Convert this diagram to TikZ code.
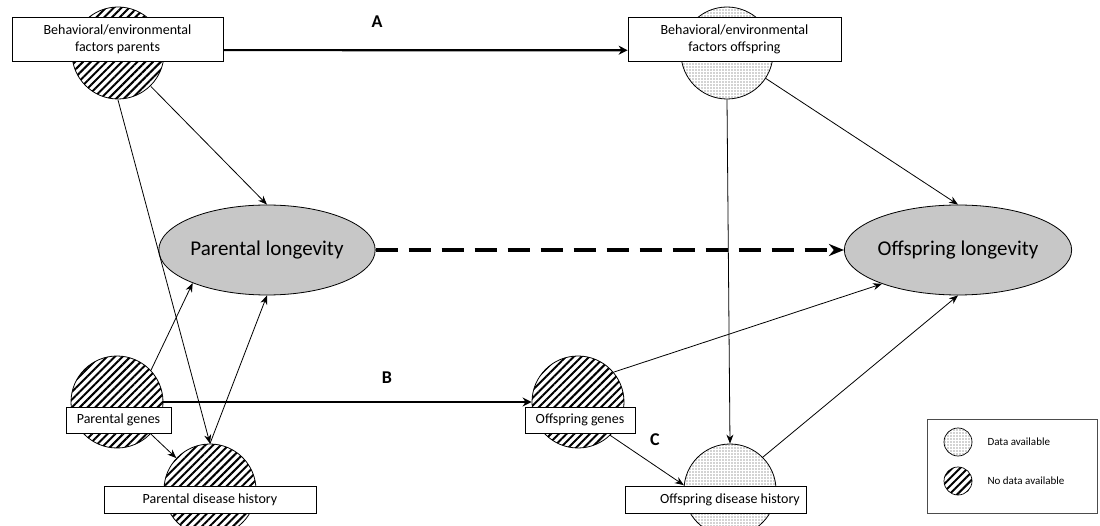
\documentclass[tikz,border=0pt]{standalone}
\usepackage{fontspec}
\setmainfont{Carlito}
\usepackage{tikz}
\usetikzlibrary{arrows.meta,shapes.geometric,patterns.meta}
\tikzset{
  hatched/.style={circle,draw,line width=0.8pt,minimum size=92pt,inner sep=0pt,
    pattern={Lines[angle=45,distance=5.5pt,line width=2pt]}},
  speckled/.style={circle,draw,line width=0.8pt,minimum size=92pt,inner sep=0pt,
    pattern={Dots[distance=3pt,radius=0.6pt]},pattern color=black!75},
  box/.style={draw,fill=white,line width=0.7pt,align=center,inner sep=0pt,
    font=\fontsize{14}{17}\selectfont},
  outcome/.style={ellipse,draw,fill=black!22,line width=0.8pt,inner sep=0pt,
    minimum width=204pt,minimum height=90pt,font=\fontsize{21}{25}\selectfont},
  arr/.style={line width=0.8pt,-{Stealth[length=9pt,width=7pt]}},
  link/.style={line width=2.2pt,-{Stealth[length=9pt,width=9pt]}},
  lbl/.style={font=\fontsize{18}{20}\selectfont\bfseries}
}

\begin{document}
\begin{tikzpicture}[x=1pt,y=-1pt]
      \useasboundingbox (0,0) rectangle (1100,526);
      % circles
      \node[hatched] (bpc) at (118,53) {};
      \node[speckled] (boc) at (727,53) {};
      \node[hatched] (pgc) at (117,402) {};
      \node[hatched] (pdc) at (210,490) {};
      \node[hatched] (ogc) at (578,402) {};
      \node[speckled] (odc) at (730,490) {};
      % longevity
      \node[outcome] (plong) at (267,250) {Parental longevity};
      \node[outcome] (olong) at (958,250) {Offspring longevity};
      % boxes
      \node[box,minimum width=211pt,minimum height=44pt] (bp) at (117.5,39)
        {Behavioral/environmental\\factors parents};
      \node[box,minimum width=213pt,minimum height=44pt] (bo) at (734.5,39)
        {Behavioral/environmental\\factors offspring};
      \node[box,minimum width=105pt,minimum height=26pt] (pg) at (118.5,420) {Parental genes};
      \node[box,minimum width=212pt,minimum height=27pt] (pd) at (210,499.5) {Parental disease history};
      \node[box,minimum width=110pt,minimum height=26pt] (og) at (580,420) {Offspring genes};
      \node[box,minimum width=181pt,minimum height=27pt] (od) at (715.5,499.5)
        {\hspace*{29pt}Offspring disease history};
      % labels
      \node[lbl] (la) at (377,22) {A};
      \node[lbl] (lb) at (387,378) {B};
      \node[lbl] (lc) at (655,440) {C};
      % connectors
      \draw[link] (bp.-6) -- (bo.186);
      \draw[link] (pgc.east) -- (ogc.west);
      \draw[line width=3.2pt,dash pattern=on 22pt off 11pt,
        -{Stealth[length=15pt,width=12pt]}] (plong) -- (olong);
      \draw[arr] (bpc) -- (plong.north);
      \draw[arr] (bpc.south) -- (pdc.north);
      \draw[arr] (boc.south) -- (odc.north);
      \draw[arr] (boc) -- (olong.north);
      \draw[arr] (pgc.43) -- (plong.204);
      \draw[arr] (pdc.north) -- (plong.south);
      \draw[arr] (pgc) -- (pdc);
      \draw[arr] (ogc.40) -- (olong.204);
      \draw[arr] (ogc.-46) -- (odc.174);
      \draw[arr] (odc.45) -- (olong.south);
      % legend
      \node[draw=black!70,line width=0.8pt,minimum width=170pt,minimum height=94pt] (key) at (1012,466) {};
      \node[speckled,minimum size=28pt,line width=0.7pt] (keyd) at (958,442) {};
      \node[hatched,minimum size=28pt,line width=0.7pt] (keyh) at (958,481) {};
      \node[anchor=west,font=\fontsize{11}{13}\selectfont] (keydt) at (984,442) {Data available};
      \node[anchor=west,font=\fontsize{11}{13}\selectfont] (keyht) at (984,481) {No data available};
\end{tikzpicture}
\end{document}
